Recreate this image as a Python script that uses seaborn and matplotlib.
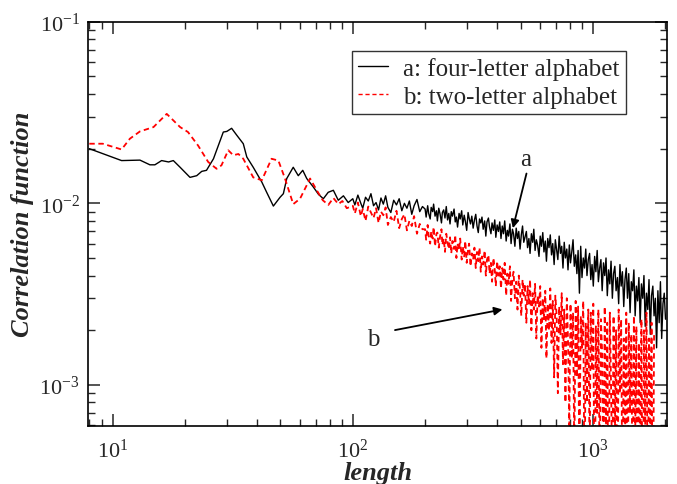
import matplotlib
matplotlib.use('Agg')
import matplotlib.pyplot as plt
import seaborn as sns
import pandas as pd

# smooth part of both curves (short lengths)
a_head_x = [8.0, 10.9, 13.0, 14.3, 15.0, 16.0, 17.1, 17.9, 19.1, 21.0, 22.4, 23.5, 24.6, 26.3,
            28.9, 29.9, 31.3, 32.9, 35.0, 36.2, 38.5, 41.8, 43.8, 46.7, 49.8, 51.4, 53.1, 56.5,
            59.3, 61.9, 64.3, 68.5, 72.0, 75.4, 79.0, 83.0, 87.0, 91.4, 95.7]
a_head_y = [0.0200, 0.0172, 0.0173, 0.0163, 0.0163, 0.0172, 0.0169, 0.0172, 0.0158, 0.0139,
            0.0142, 0.0150, 0.0152, 0.0176, 0.0247, 0.0249, 0.0259, 0.0237, 0.0213, 0.0180,
            0.0158, 0.0131, 0.0115, 0.00966, 0.0108, 0.0113, 0.0137, 0.0158, 0.0142, 0.0152,
            0.0137, 0.0123, 0.0112, 0.0106, 0.0115, 0.0118, 0.0104, 0.0110, 0.0101]

b_head_x = [8.0, 9.1, 10.9, 11.8, 13.0, 14.8, 16.8, 19.1, 20.6, 22.7, 25.0, 27.1, 28.4, 30.3,
            31.8, 33.4, 35.0, 38.5, 41.8, 45.9, 49.0, 52.2, 56.5, 60.3, 66.4, 70.8, 75.0,
            79.1, 83.0, 87.1, 90.5, 94.4]
b_head_y = [0.0213, 0.0213, 0.0198, 0.0227, 0.0249, 0.0263, 0.0311, 0.0263, 0.0247, 0.0208,
            0.0169, 0.0155, 0.0162, 0.0196, 0.0184, 0.0187, 0.0176, 0.0139, 0.0134, 0.0176,
            0.0172, 0.0137, 0.0099, 0.0106, 0.0137, 0.0118, 0.0104, 0.0098, 0.0107, 0.0099,
            0.0103, 0.0094]

# noisy part (long lengths)
tail_x = [100, 102, 105, 108, 110, 113, 116, 119, 122, 125, 128, 131, 134, 137,
          140, 144, 148, 152, 156, 160, 164, 168, 172, 176, 180, 185, 190, 195,
          200, 202, 205, 207, 210, 212, 215, 217, 220, 223,
          225, 228, 231, 234, 236, 239, 242, 245, 248, 251,
          254, 257, 260, 264, 267, 270, 273, 277, 280, 284,
          287, 291, 294, 298, 302, 305, 309, 313, 317, 321,
          325, 329, 333, 337, 341, 345, 349, 354, 358, 362,
          367, 371, 376, 380, 385, 390, 394, 399, 404, 409,
          414, 419, 424, 429, 435, 440, 445, 451, 456, 462,
          467, 473, 479, 485, 491, 497, 503, 509, 515, 521,
          528, 534, 541, 547, 554, 561, 567, 574, 581, 588,
          596, 603, 610, 618, 625, 633, 640, 648, 656, 664,
          672, 680, 689, 697, 706, 714, 723, 732, 741, 750,
          759, 768, 778, 787, 797, 806, 816, 826, 836, 847,
          857, 867, 878, 889, 900, 911, 922, 933, 944, 956,
          968, 979, 991, 1003, 1016, 1028, 1041, 1053, 1066, 1079,
          1092, 1106, 1119, 1133, 1147, 1161, 1175, 1189, 1204, 1218,
          1233, 1248, 1264, 1279, 1295, 1310, 1326, 1343, 1359, 1376,
          1392, 1409, 1427, 1444, 1462, 1480, 1498, 1516, 1534, 1553,
          1572, 1591, 1611, 1630, 1650, 1670, 1691, 1711, 1732, 1753,
          1775, 1796, 1818, 1840, 1863, 1886, 1909, 1932, 1956, 1980,
          2004]

a_tail_y = [0.0106, 0.0098, 0.0111, 0.0100, 0.0094, 0.0108, 0.0103, 0.0113, 0.0097, 0.0101,
            0.0092, 0.0107, 0.0099, 0.0110, 0.0095, 0.0089, 0.0104, 0.0098, 0.0106, 0.0091,
            0.0100, 0.0094, 0.0103, 0.0087, 0.0097, 0.0105, 0.0090, 0.0096,
            0.0093, 0.0084, 0.0097, 0.0088, 0.0082, 0.0095, 0.0090, 0.0099, 0.0085, 0.0091,
            0.0080, 0.0094, 0.0087, 0.0078, 0.0089, 0.0092, 0.0083, 0.0096, 0.0081, 0.0088,
            0.0077, 0.0090, 0.0085, 0.0093, 0.0079, 0.0084, 0.0074, 0.0088, 0.0082, 0.0091,
            0.0076, 0.0086, 0.0080, 0.0071, 0.0089, 0.0083, 0.0077, 0.0085, 0.0073, 0.0081,
            0.0087, 0.0075, 0.0069, 0.0082, 0.0078, 0.0084, 0.0072, 0.0080, 0.0066, 0.0079,
            0.0083, 0.0074, 0.0068, 0.0078, 0.0071, 0.0081, 0.0065, 0.0076, 0.0070, 0.0079,
            0.0064, 0.0075, 0.0068, 0.0080, 0.0062, 0.0071, 0.0066, 0.0077, 0.0060, 0.0072,
            0.0068, 0.0058, 0.0073, 0.0064, 0.0070, 0.0056, 0.0067, 0.0075, 0.0061, 0.0065,
            0.0070, 0.0057, 0.0064, 0.0053, 0.0068, 0.0061, 0.0072, 0.0055, 0.0063, 0.0059,
            0.0051, 0.0066, 0.0058, 0.0069, 0.0054, 0.0062, 0.0048, 0.0064, 0.0057, 0.0067,
            0.0052, 0.0060, 0.0046, 0.0063, 0.0055, 0.0049, 0.0066, 0.0053, 0.0058, 0.0044,
            0.0061, 0.0050, 0.0056, 0.0043, 0.0059, 0.0047, 0.0054, 0.0063, 0.0045, 0.0052,
            0.0041, 0.0055, 0.0032, 0.0058, 0.0039, 0.0050, 0.0044, 0.0056, 0.0040, 0.0049,
            0.0053, 0.0038, 0.0046, 0.0035, 0.0051, 0.0042, 0.0055, 0.0037, 0.0044, 0.0049,
            0.0033, 0.0047, 0.0040, 0.0050, 0.0031, 0.0043, 0.0036, 0.0048, 0.0030, 0.0041,
            0.0045, 0.0033, 0.0039, 0.0028, 0.0046, 0.0035, 0.0042, 0.0027, 0.0038, 0.0044,
            0.0030, 0.0041, 0.0025, 0.0037, 0.0033, 0.0043, 0.0024, 0.0035, 0.0029, 0.0039,
            0.0022, 0.0036, 0.0030, 0.0040, 0.0021, 0.0032, 0.0026, 0.0038, 0.0019, 0.0031,
            0.0035, 0.0024, 0.0030, 0.0016, 0.0033, 0.0022, 0.0037, 0.0018, 0.0028, 0.0032,
            0.0023]

b_tail_y = [0.0097, 0.0088, 0.0101, 0.0085, 0.0093, 0.0080, 0.0096, 0.0089, 0.0083, 0.0094,
            0.0078, 0.0090, 0.0086, 0.0095, 0.0076, 0.0084, 0.0079, 0.0091, 0.0073, 0.0082,
            0.0087, 0.0071, 0.0080, 0.0075, 0.0085, 0.0068, 0.0077, 0.0072,
            0.0072, 0.0063, 0.0076, 0.0066, 0.0060, 0.0070, 0.0064, 0.0074, 0.0058, 0.0068,
            0.0069, 0.0057, 0.0066, 0.0072, 0.0059, 0.0064, 0.0054, 0.0068, 0.0061, 0.0056,
            0.0065, 0.0053, 0.0062, 0.0056, 0.0067, 0.0050, 0.0060, 0.0055, 0.0064, 0.0049,
            0.0058, 0.0051, 0.0062, 0.0047, 0.0056, 0.0060, 0.0045, 0.0053, 0.0049, 0.0057,
            0.0044, 0.0054, 0.0048, 0.0057, 0.0042, 0.0051, 0.0046, 0.0055, 0.0040, 0.0049,
            0.0052, 0.0041, 0.0047, 0.0037, 0.0050, 0.0043, 0.0035, 0.0048, 0.0040, 0.0045,
            0.0034, 0.0044, 0.0038, 0.0047, 0.0031, 0.0041, 0.0036, 0.0045, 0.0029, 0.0039,
            0.0042, 0.0030, 0.0037, 0.0026, 0.0040, 0.0033, 0.0024, 0.0038, 0.0031, 0.0036,
            0.0022, 0.0035, 0.0028, 0.0038, 0.0020, 0.0032, 0.0026, 0.0036, 0.0018, 0.0031,
            0.0027, 0.0035, 0.0016, 0.0030, 0.0023, 0.0033, 0.0014, 0.0028, 0.0020, 0.0034,
            0.0017, 0.0029, 0.0011, 0.0031, 0.0024, 0.0009, 0.0027, 0.0019, 0.0032, 0.0013,
            0.0026, 0.0008, 0.0030, 0.0018, 0.0006, 0.0028, 0.0014, 0.0025, 0.0004, 0.0029,
            0.0011, 0.0027, 0.0003, 0.0024, 0.0016, 0.0029, 0.0002, 0.0022, 0.0008, 0.0026,
            0.0004, 0.0025, 0.0012, 0.0028, 0.0001, 0.0021, 0.0007, 0.0026, 0.0003, 0.0023,
            0.0015, 0.0002, 0.0027, 0.0006, 0.0022, 0.0001, 0.0025, 0.0010, 0.0003, 0.0024,
            0.0005, 0.0020, 0.0001, 0.0026, 0.0009, 0.0023, 0.0002, 0.0018, 0.0004, 0.0025,
            0.0001, 0.0022, 0.0007, 0.0019, 0.0002, 0.0024, 0.0005, 0.0021, 0.0001, 0.0017,
            0.0003, 0.0023, 0.0001, 0.0020, 0.0006, 0.0025, 0.0002, 0.0018, 0.0004, 0.0022,
            0.0001, 0.0019]

labels = ['a: four-letter alphabet', 'b: two-letter alphabet']

#%% build table
dfA = pd.DataFrame({'length': a_head_x + tail_x[:len(a_tail_y)], 'corr': a_head_y + a_tail_y})
dfA['series'] = labels[0]
dfB = pd.DataFrame({'length': b_head_x + tail_x[:len(b_tail_y)], 'corr': b_head_y + b_tail_y})
dfB['series'] = labels[1]
df = pd.concat([dfA, dfB], ignore_index=True)

#%% plotting
sns.set_style('ticks')
plt.rcParams['font.family'] = ['Liberation Serif', 'DejaVu Serif']
plt.rcParams['mathtext.fontset'] = 'stix'
plt.rcParams['axes.unicode_minus'] = False
plt.rcParams['xtick.direction'] = 'in'
plt.rcParams['ytick.direction'] = 'in'
plt.rcParams['xtick.top'] = True
plt.rcParams['ytick.right'] = True

fig = plt.figure(figsize=(6.77, 4.85), dpi=100)
ax = fig.add_axes([0.130, 0.120, 0.855, 0.833])

sns.lineplot(data=df, x='length', y='corr', hue='series', style='series',
             palette={labels[0]: 'black', labels[1]: 'red'},
             dashes={labels[0]: '', labels[1]: (3, 2)},
             estimator=None, sort=False, linewidth=1.0, ax=ax)
# thicker red trace so the dense noisy tail fills in
ax.get_lines()[1].set_linewidth(1.3)

ax.set_xscale('log')
ax.set_yscale('log')
ax.set_xlim(7.9, 2030)
ax.set_ylim(5.95e-4, 0.1)

ax.tick_params(which='major', length=8.5, width=1.1, labelsize=16)
ax.tick_params(axis='x', which='major', pad=9)
ax.tick_params(axis='y', which='major', pad=6)
ax.tick_params(which='minor', length=5, width=1.0)
for s in ax.spines.values():
    s.set_linewidth(1.2)
    s.set_color('black')

ax.set_xlabel('length', fontsize=19, fontweight='bold', fontstyle='italic', labelpad=0)
ax.set_ylabel('Correlation function', fontsize=19, fontweight='bold', fontstyle='italic', labelpad=4)

handles, labs = ax.get_legend_handles_labels()
handles[1].set_linewidth(1.0)
leg = ax.legend(handles, labs, loc='upper right', bbox_to_anchor=(0.929, 0.928),
                borderaxespad=0, fontsize=18, frameon=True, fancybox=False,
                handlelength=1.2, handletextpad=0.6, borderpad=0.25, labelspacing=0.2)
leg.get_frame().set_edgecolor('black')
leg.get_frame().set_linewidth(1.0)

# arrows marking the curves
ax.text(522, 0.0176, 'a', fontsize=18, ha='center', va='center')
ax.annotate('', xy=(461, 0.00705), xytext=(532, 0.0151),
            arrowprops=dict(arrowstyle='-|>', color='black', lw=1.3, mutation_scale=12))
ax.text(121.6, 0.00179, 'b', fontsize=18, ha='center', va='center')
ax.annotate('', xy=(431, 0.00262), xytext=(146, 0.00199),
            arrowprops=dict(arrowstyle='-|>', color='black', lw=1.3, mutation_scale=12))

fig.savefig('out.png', dpi=100)
